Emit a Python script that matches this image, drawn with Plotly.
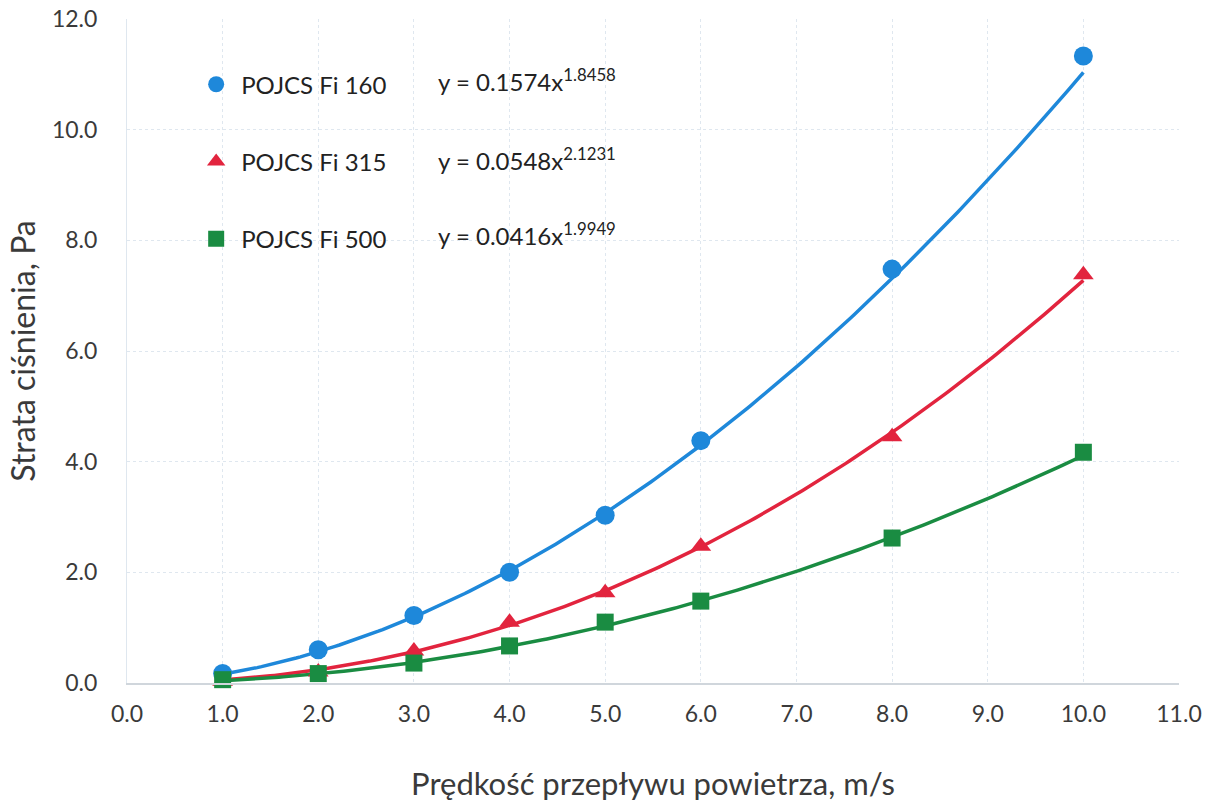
import numpy as np
import plotly.graph_objects as go

# Data
velocity = [1.0, 2.0, 3.0, 4.0, 5.0, 6.0, 8.0, 10.0]
fi160 = [0.17, 0.60, 1.22, 2.00, 3.03, 4.38, 7.48, 11.33]
fi315 = [0.03, 0.20, 0.58, 1.10, 1.63, 2.47, 4.45, 7.38]
fi500 = [0.06, 0.17, 0.36, 0.67, 1.10, 1.48, 2.62, 4.17]

series_names = ["POJCS Fi 160", "POJCS Fi 315", "POJCS Fi 500"]
fit_coef = [0.1574, 0.0548, 0.0416]
fit_exp = [1.8458, 2.1231, 1.9949]
eq_y = [10.9, 9.47, 8.12]

colors = ["#1E88DA", "#E2243E", "#1A8C42"]
symbols = ["circle", "triangle-up", "square"]
sizes = [19, 18, 17]

FONT = "Lato, Carlito, Calibri, sans-serif"

fig = go.Figure()

xs = np.linspace(min(velocity), max(velocity), 200)
all_vals = [fi160, fi315, fi500]
for i in range(3):
    fig.add_trace(go.Scatter(
        x=xs, y=fit_coef[i] * xs ** fit_exp[i], mode="lines",
        line=dict(color=colors[i], width=3.5), showlegend=False, hoverinfo="skip"))

for i in range(3):
    fig.add_trace(go.Scatter(
        x=velocity, y=all_vals[i], mode="markers", name=series_names[i],
        legendgroup=f"g{i}", cliponaxis=False,
        marker=dict(symbol=symbols[i], size=sizes[i], color=colors[i])))

for i in range(3):
    fig.add_annotation(
        x=3.23, y=eq_y[i], xref="x", yref="y", xanchor="left", yanchor="middle",
        text=f"y = {fit_coef[i]:.4f}x<sup>{fit_exp[i]:.4f}</sup>",
        showarrow=False, font=dict(family=FONT, size=24, color="#222222"))

grid = dict(showgrid=True, gridcolor="#dfe7ef", griddash="dot", gridwidth=1)

fig.update_layout(
    width=1216, height=802,
    margin=dict(l=127, r=37, t=19, b=119),
    paper_bgcolor="white", plot_bgcolor="white",
    font=dict(family=FONT, size=23, color="#3a3a3a"),
    legend=dict(x=0.061, y=0.935, xanchor="left", yanchor="top",
                font=dict(family=FONT, size=24, color="#222222"),
                tracegroupgap=43, bgcolor="rgba(0,0,0,0)",
                itemsizing="trace", itemwidth=40),
    xaxis=dict(range=[0, 11], dtick=1, tick0=0, tickformat=".1f", automargin=False,
               title=dict(text="Prędkość przepływu powietrza, m/s", font=dict(size=31), standoff=52),
               showline=True, linecolor="#d0d6dc", linewidth=1.5, zeroline=False,
               ticks="", ticklabelstandoff=10, ticklabeloverflow="allow",
               tickfont=dict(size=23), **grid),
    yaxis=dict(range=[0, 12], dtick=2, tick0=0, tickformat=".1f", automargin=False,
               title=dict(text="Strata ciśnienia, Pa", font=dict(size=32), standoff=6),
               showline=True, linecolor="#dfe7ef", linewidth=1, zeroline=False,
               ticks="", ticklabelstandoff=24, ticklabeloverflow="allow",
               tickfont=dict(size=23), **grid),
)

fig.write_html("out.html", config={"displayModeBar": False},
               post_script="document.body.style.margin='0';")
